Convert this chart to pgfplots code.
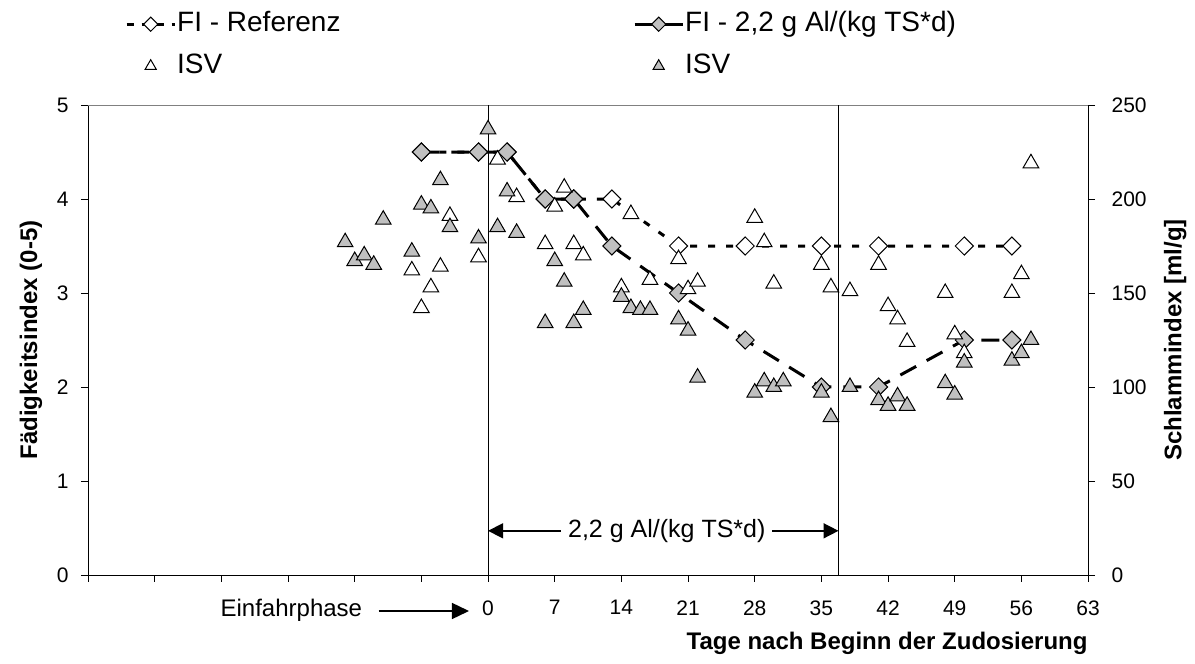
\documentclass[border=0pt]{standalone}
\usepackage{fontspec}
\setmainfont{Liberation Sans}
\usepackage{pgfplots}
\pgfplotsset{compat=1.18}
\usetikzlibrary{arrows.meta}
\definecolor{silv}{RGB}{192,192,192}
\begin{document}
\begin{tikzpicture}[x=1pt,y=1pt]
\path[use as bounding box] (0,0) rectangle (1195,664);
\pgfplotsset{
 common/.style={
  at={(88pt,89pt)}, anchor=south west, scale only axis, width=1000pt, height=470pt,
  xmin=-42, xmax=63, clip=false,
  tick align=outside, major tick length=7pt,
  every tick/.style={black, line width=0.8pt},
  axis line style={black, line width=0.8pt},
  ticklabel style={font=\fontsize{21}{21}\selectfont},
  /pgf/number format/assume math mode=true,
  label style={font=\fontsize{24}{24}\selectfont\bfseries},
 }
}
\begin{axis}[common,
  axis x line*=bottom, axis y line*=left,
  ymin=0, ymax=5, ytick={0,1,2,3,4,5},
  xtick={-42,-35,...,63},
  xticklabels={,,,,,,0,7,14,21,28,35,42,49,56,63},
  xticklabel style={yshift=-15pt},
  yticklabel style={xshift=-9pt},
  ylabel={Fädigkeitsindex (0-5)},
  ylabel style={at={(axis description cs:-0.057,0.5)}, anchor=center},
  xlabel={Tage nach Beginn der Zudosierung},
  xlabel style={at={(axis description cs:1,0)}, anchor=east, yshift=-68pt, xshift=3pt},
]
\draw[gray, line width=0.8pt] (rel axis cs:0,1) -- (rel axis cs:1,1);
\draw[black, line width=0.8pt] (axis cs:0,0) -- (axis cs:0,5);
\draw[black, line width=0.8pt] (axis cs:36.8,0) -- (axis cs:36.8,5);
\addplot[black, line width=3pt, dash pattern=on 7pt off 11pt, mark=square*, mark size=6.4pt,
  mark options={solid, fill=white, draw=black, line width=1pt, rotate=45}]
  coordinates {(-7,4.5) (-1,4.5) (2,4.5) (6,4) (9,4) (13,4) (20,3.5) (27,3.5) (35,3.5) (41,3.5) (50,3.5) (55,3.5)};
\addplot[black, line width=3pt, dash pattern=on 18pt off 12pt, mark=square*, mark size=6.4pt,
  mark options={solid, fill=silv, draw=black, line width=1pt, rotate=45}]
  coordinates {(-7,4.5) (-1,4.5) (2,4.5) (6,4) (9,4) (13,3.5) (20,3) (27,2.5) (35,2) (41,2) (50,2.5) (55,2.5)};
\draw[{Triangle[length=15pt,width=15pt]}-{Triangle[length=15pt,width=15pt]}, line width=1.5pt]
  (axis cs:0,0.47) -- (axis cs:36.8,0.47)
  node[pos=0.51, fill=white, font=\fontsize{25}{25}\selectfont, inner xsep=7pt, inner ysep=2pt] {2,2 g Al/(kg TS*d)};
\node[font=\fontsize{24}{24}\selectfont] at (axis cs:-20.65,-0.38) {Einfahrphase};
\draw[-{Triangle[length=17pt,width=16pt]}, line width=1.5pt] (axis cs:-11.5,-0.383) -- (axis cs:-2.0,-0.383);
\end{axis}
\begin{axis}[common,
  axis x line=none, axis y line*=right,
  ymin=0, ymax=250, ytick={0,50,...,250},
  yticklabel style={xshift=13pt},
  ylabel={Schlammindex [ml/g]},
  ylabel style={at={(axis description cs:1.087,0.5)}, anchor=center},
  legend columns=2,
  legend style={at={(axis description cs:0,1)}, anchor=north west, xshift=37pt, yshift=95pt,
    draw=none, fill=none, font=\fontsize{28}{28}\selectfont, row sep=14pt, inner sep=0pt,
    nodes={inner sep=1pt, text height=20pt, text depth=6pt}},
  legend cell align=left,
  legend image code/.code={\draw[mark repeat=2,mark phase=2,#1] plot coordinates {(0pt,0pt) (24pt,0pt) (48pt,0pt)};},
]
\addlegendimage{black, line width=3pt, dash pattern=on 7pt off 8pt, mark=square*, mark size=5pt, mark options={solid, fill=white, draw=black, line width=1pt, rotate=45}}
\addlegendentry{\makebox[455pt][l]{FI - Referenz}}
\addlegendimage{black, line width=3pt, mark=square*, mark size=5pt, mark options={solid, fill=silv, draw=black, line width=1pt, rotate=45}}
\addlegendentry{FI - 2,2 g Al/(kg TS*d)}
\addlegendimage{only marks, mark=triangle*, mark size=6.5pt, mark options={fill=white, draw=black, line width=1pt}}
\addlegendentry{ISV}
\addlegendimage{only marks, mark=triangle*, mark size=6.5pt, mark options={fill=silv, draw=black, line width=1pt}}
\addlegendentry{ISV}
\addplot[forget plot, only marks, mark=triangle*, mark size=9pt, mark options={fill=white, draw=black, line width=1pt}]
  coordinates {(-8,162) (-7,142) (-6,153) (-5,164) (-4,191) (-1,169) (1,221) (3,201) (6,176) (7,196) (8,206) (9,176) (10,170) (14,153) (15,192) (17,157) (20,168) (21,152) (22,156) (28,190) (29,177) (30,155) (35,165) (36,153) (38,151) (41,165) (42,143) (43,136) (44,124) (48,150) (49,128) (50,118) (55,150) (56,160) (57,219)};
\addplot[forget plot, only marks, mark=triangle*, mark size=9pt, mark options={fill=silv, draw=black, line width=1pt}]
  coordinates {(-15,177) (-14,167) (-13,170) (-12,165) (-11,189) (-8,172) (-7,197) (-6,195) (-5,210) (-4,185) (-1,179) (0,237) (1,185) (2,204) (3,182) (6,134) (7,167) (8,156) (9,134) (10,141) (14,148) (15,142) (16,141) (17,141) (20,136) (21,130) (22,105) (28,97) (29,103) (30,100) (31,103) (35,97) (36,84) (38,100) (41,93) (42,90) (43,95) (44,90) (48,102) (49,96) (50,113) (55,114) (56,118) (57,125)};
\end{axis}
\end{tikzpicture}
\end{document}
